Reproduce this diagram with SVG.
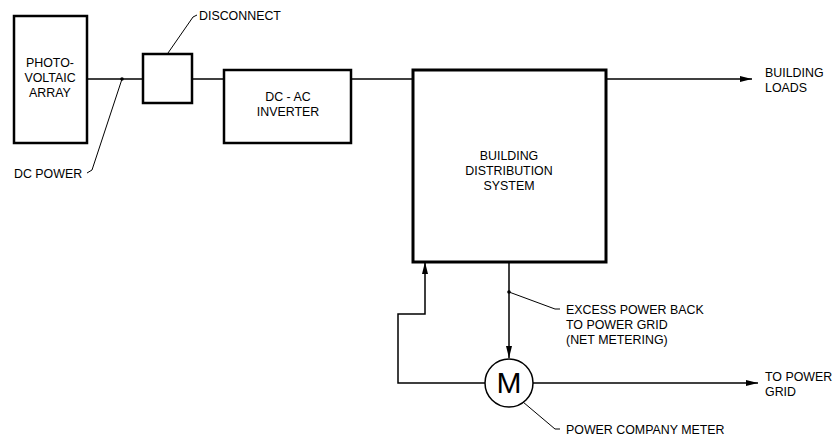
<svg xmlns="http://www.w3.org/2000/svg" width="833" height="438" viewBox="0 0 833 438">
<style>
text{font-family:"Liberation Sans",Arial,sans-serif;font-size:12.4px;fill:#000}
.box{fill:none;stroke:#000;stroke-width:2.5}
.ln{fill:none;stroke:#000;stroke-width:1.5}
.ld{fill:none;stroke:#000;stroke-width:1}
.c{text-anchor:middle}
</style>
<defs>
<marker id="ah" viewBox="0 0 12 6" refX="12" refY="3" markerWidth="12" markerHeight="6" markerUnits="userSpaceOnUse" orient="auto">
<path d="M0,0 L12,3 L0,6 z" fill="#000"/>
</marker>
</defs>
<rect width="833" height="438" fill="#fff"/>
<g id="connectors">
<path class="ln" d="M87,79 H143"/>
<path class="ln" d="M192,79 H224"/>
<path class="ln" d="M351,79 H413"/>
<path class="ln" d="M607,79 H752" marker-end="url(#ah)"/>
<path class="ln" d="M509,262 V358" marker-end="url(#ah)"/>
<path class="ln" d="M485,383 H398 V314 H425 V262" marker-end="url(#ah)"/>
<path class="ln" d="M533,383 H758" marker-end="url(#ah)"/>
<circle cx="122" cy="79" r="1.8" fill="#000"/>
<circle cx="509" cy="292" r="1.8" fill="#000"/>
<path class="ld" d="M122,79 L92,170 L87,173"/>
<path class="ld" d="M168,53 L193,17 L197,15"/>
<path class="ld" d="M509,292 L555,309 L560,309"/>
<path class="ld" d="M523,402 L555,429 L560,429"/>
</g>
<g id="pv">
<rect class="box" x="14" y="16" width="73" height="127"/>
<text class="c" x="50" y="67">PHOTO-</text>
<text class="c" x="50" y="82">VOLTAIC</text>
<text class="c" x="50" y="97">ARRAY</text>
</g>
<g id="disconnect">
<rect class="box" x="143" y="54" width="49" height="49"/>
<text x="199" y="20">DISCONNECT</text>
</g>
<g id="inverter">
<rect class="box" x="224" y="70" width="127" height="73"/>
<text class="c" x="288" y="101">DC - AC</text>
<text class="c" x="288" y="116">INVERTER</text>
</g>
<g id="building">
<rect x="413" y="70" width="193" height="192" fill="none" stroke="#000" stroke-width="3"/>
<text class="c" x="509" y="160">BUILDING</text>
<text class="c" x="509" y="175">DISTRIBUTION</text>
<text class="c" x="509" y="190">SYSTEM</text>
</g>
<g id="meter">
<circle cx="509" cy="383" r="24" fill="#fff" stroke="#000" stroke-width="1.5"/>
<text class="c" x="509" y="393" style="font-size:30px">M</text>
</g>
<g id="labels">
<text x="14" y="178">DC POWER</text>
<text x="765" y="77">BUILDING</text>
<text x="765" y="92">LOADS</text>
<text x="566" y="314">EXCESS POWER BACK</text>
<text x="566" y="329">TO POWER GRID</text>
<text x="566" y="344">(NET METERING)</text>
<text x="765" y="381">TO POWER</text>
<text x="765" y="396">GRID</text>
<text x="566" y="434">POWER COMPANY METER</text>
</g>
</svg>
